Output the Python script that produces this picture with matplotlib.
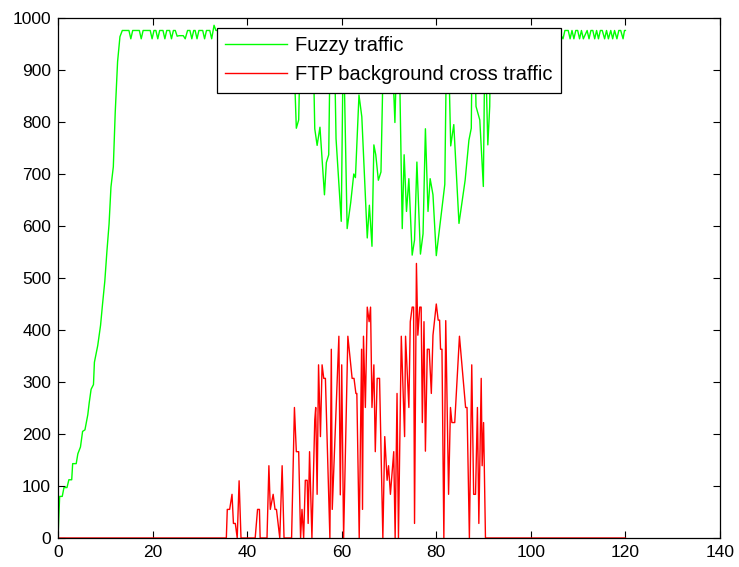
import matplotlib
matplotlib.use("Agg")
import matplotlib.pyplot as plt

plt.rcParams['font.family'] = ['Liberation Sans', 'DejaVu Sans']

# Fuzzy traffic (packets) sampled over time
fuzzy_t = [0, 0.35, 0.9, 1.26, 1.9, 2.3, 2.9, 3.1, 3.85, 4.2, 4.75, 5.2, 5.7, 6.3, 6.6,
           7.0, 7.5, 7.7, 8.4, 9.0, 9.4, 9.9, 10.35, 10.8, 11.2, 11.7, 12.1, 12.6, 13.1, 13.6,
           15.0, 15.4, 15.8, 17.2, 17.6, 18.0, 19.5, 19.9, 20.3, 20.7, 21.1, 21.5, 22.2, 22.6,
           23.0, 23.6, 24.0, 24.4, 24.8, 25.2, 25.6, 26.5, 26.9, 27.4, 27.9, 28.3, 28.7, 29.0,
           29.4, 29.8, 30.6, 31.0, 31.4, 32.1, 32.5, 33.0, 33.4,
           45.5, 45.85, 46.2, 49.7, 50.4, 50.9, 51.3, 53.9, 54.3, 54.8, 55.4, 56.35, 56.75,
           57.25, 57.6, 58.4, 58.8, 59.9, 60.35, 61.15, 61.9, 62.55, 62.9, 63.65, 64.25, 65.4,
           65.85, 66.4, 66.8, 67.2, 67.75, 68.3, 68.9, 70.5, 71.25, 71.75, 72.1, 72.8, 73.2,
           73.7, 74.2, 74.9, 75.4, 75.9, 76.65, 77.2, 77.7, 78.25, 78.7, 79.3, 80.0, 81.8,
           82.2, 82.5, 83.05, 83.7, 84.8, 86.1, 86.9, 87.4, 87.6, 88.1, 88.4, 89.2, 89.95,
           90.3, 90.9, 91.3, 91.5,
           92.6, 93.0, 93.4, 94.2, 94.6, 95.0, 95.8, 96.2, 96.6, 97.4, 97.8, 98.2, 99.0, 99.4,
           99.8, 100.6, 101.0, 101.4, 102.2, 102.6, 103.0, 103.8, 104.2, 104.6, 105.4, 105.8,
           106.2, 106.4, 106.8, 107.2, 107.9, 108.3, 108.7, 109.1, 109.5, 109.9, 110.3, 110.7,
           111.1, 111.9, 112.3, 112.7, 113.1, 113.5, 113.9, 114.3, 114.7, 115.1, 115.6, 116.0,
           116.4, 116.9, 117.3, 117.7, 118.2, 118.6, 119.0, 119.5, 119.8, 120.0]
fuzzy_v = [0, 80, 80, 97, 97, 112, 112, 143, 143, 162, 175, 205, 208, 237, 260,
           286, 295, 338, 370, 409, 448, 494, 552, 604, 675, 714, 818, 916, 964, 976,
           976, 960, 976, 976, 960, 976, 976, 960, 976, 976, 960, 976, 976, 960,
           976, 976, 960, 976, 976, 965, 966, 966, 960, 976, 976, 960, 976, 976,
           960, 976, 976, 960, 976, 976, 960, 986, 976,
           976, 855, 976, 976, 788, 804, 976, 976, 787, 755, 790, 660, 722,
           737, 976, 976, 768, 609, 976, 595, 645, 700, 693, 852, 810, 577,
           640, 561, 756, 737, 688, 704, 976, 976, 799, 976, 976, 595, 737,
           628, 691, 544, 573, 723, 546, 585, 787, 628, 691, 660, 543, 680,
           976, 976, 754, 795, 605, 688, 765, 788, 976, 976, 830, 804, 676,
           976, 756, 830, 976,
           976, 960, 976, 976, 960, 976, 976, 960, 976, 976, 960, 976, 976, 960,
           976, 976, 960, 976, 976, 960, 976, 976, 960, 976, 976, 960,
           976, 966, 960, 976, 976, 960, 976, 960, 976, 976, 960, 976,
           960, 976, 960, 976, 976, 960, 976, 960, 976, 976, 960, 976,
           960, 976, 960, 976, 960, 976, 976, 960, 976, 976]

# FTP background cross traffic
ftp_t = [0, 35.6, 35.8, 36.3, 36.8, 37.1, 37.5, 37.9, 38.3, 38.7, 41.7, 42.2, 42.6, 42.75,
         44.2, 44.6, 44.9, 45.5, 45.9, 46.2, 46.9, 47.4, 47.8, 49.4, 50.0, 50.4, 50.9, 51.3,
         51.6, 51.95, 52.3, 52.7, 52.9, 53.2, 53.7, 54.3, 54.5, 54.8, 55.1, 55.5, 55.85, 56.2,
         56.55, 57.5, 57.8, 58.0, 59.4, 59.7, 60.0, 60.4, 61.3, 62.2, 62.6, 63.0, 63.2, 63.7,
         64.2, 64.4, 64.6, 65.0, 65.4, 65.8, 66.1, 66.4, 66.8, 67.1, 67.5, 68.0, 68.7, 69.1,
         69.6, 69.9, 70.3, 71.0, 71.3, 71.7, 72.0, 72.6, 73.3, 73.5, 74.2, 74.5, 74.9, 75.2,
         75.4, 75.8, 76.1, 76.5, 76.8, 77.05, 77.4, 77.7, 78.1, 78.5, 78.95, 79.3, 80.0, 80.4,
         80.7, 80.9, 81.2, 81.6, 82.0, 82.6, 83.0, 83.3, 83.9, 84.9, 86.2, 86.5, 87.0, 87.5,
         87.9, 88.3, 88.7, 89.0, 89.5, 89.7, 90.0, 90.4, 120.0]
ftp_v = [0, 0, 55, 55, 84, 28, 28, 0, 110, 0, 0, 55, 55, 0,
         0, 139, 55, 84, 55, 55, 0, 139, 0, 0, 251, 166, 166, 0,
         55, 0, 111, 111, 28, 166, 0, 227, 251, 84, 333, 195, 333, 307,
         307, 0, 363, 55, 388, 83, 333, 0, 388, 307, 307, 278, 278, 0,
         363, 55, 388, 251, 444, 416, 444, 251, 333, 166, 307, 307, 0, 195,
         111, 139, 84, 166, 0, 278, 0, 388, 195, 388, 251, 416, 444, 444,
         28, 528, 390, 444, 444, 222, 416, 167, 363, 363, 278, 390, 450, 419,
         419, 363, 363, 0, 418, 84, 251, 222, 222, 388, 251, 251, 0, 333,
         84, 84, 251, 28, 307, 139, 222, 0, 0]

fig = plt.figure(figsize=(7.39, 5.67), dpi=100)
ax = fig.add_axes([58 / 739, 29 / 567, 662 / 739, 520 / 567])

ax.plot(fuzzy_t, fuzzy_v, color='#00ff00', lw=1.0, label='Fuzzy traffic')
ax.plot(ftp_t, ftp_v, color='#ff0000', lw=1.0, label='FTP background cross traffic')

ax.set_xlim(0, 140)
ax.set_ylim(0, 1000)
ax.set_xticks(range(0, 141, 20))
ax.set_yticks(range(0, 1001, 100))
ax.tick_params(direction='in', top=True, right=True, length=5, width=0.8,
               labelsize=12.5, pad=5)
for s in ax.spines.values():
    s.set_linewidth(0.9)

leg = ax.legend(loc='upper center', bbox_to_anchor=(0.5, 0.981), borderaxespad=0,
                fontsize=14.5, fancybox=False, framealpha=1, edgecolor='black',
                handlelength=3.1, handletextpad=0.4, labelspacing=0.5, borderpad=0.42)
leg.get_frame().set_linewidth(0.9)

fig.savefig('out.png', dpi=100)
